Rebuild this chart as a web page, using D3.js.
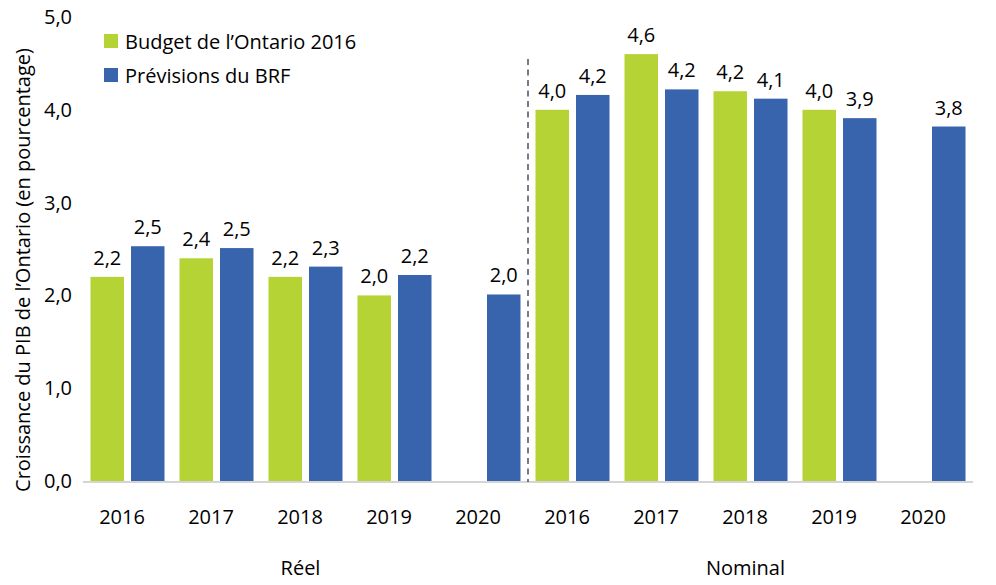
<!DOCTYPE html>
<html>
<head>
<meta charset="utf-8">
<script src="https://cdn.jsdelivr.net/npm/d3@7"></script>
<style>
  body { margin: 0; background: #fff; }
  svg { font-family: "Open Sans", "Noto Sans", sans-serif; }
</style>
</head>
<body>
<div id="chart"></div>
<script>
// data
var years = ["2016", "2017", "2018", "2019", "2020"];
var groups = ["Réel", "Nominal"];
var seriesNames = ["Budget de l’Ontario 2016", "Prévisions du BRF"];
var budget = [2.2, 2.4, 2.2, 2.0, null, 4.0, 4.6, 4.2, 4.0, null];
var brf = [2.53, 2.51, 2.31, 2.22, 2.01, 4.16, 4.22, 4.12, 3.91, 3.82];
var yTicks = [0, 1, 2, 3, 4, 5];

var colors = ["#b5d334", "#3864ae"];
var width = 996, height = 585;
var fs = 20;

var svg = d3.select("#chart").append("svg")
  .attr("width", width)
  .attr("height", height);

// one category per group/year pair
var cats = [];
groups.forEach(function(g) {
  years.forEach(function(yr) { cats.push(g + "-" + yr); });
});

var x = d3.scaleBand().domain(cats).range([83, 973]);
var xSub = d3.scaleBand().domain([0, 1]).range([0, x.bandwidth()])
  .paddingInner(0.173).paddingOuter(0.185);
var y = d3.scaleLinear().domain([0, 5]).range([481, 17]);

var fmt = function(v) { return d3.format(".1f")(v).replace(".", ","); };

// y tick labels
svg.append("g").selectAll("text")
  .data(yTicks).enter().append("text")
  .attr("x", 72)
  .attr("y", function(d) { return y(d); })
  .attr("dy", "0.35em")
  .attr("text-anchor", "end")
  .attr("font-size", fs)
  .attr("fill", "#000")
  .text(fmt);

// y title
svg.append("text")
  .attr("transform", "translate(30,270) rotate(-90)")
  .attr("text-anchor", "middle")
  .attr("font-size", fs)
  .text("Croissance du PIB de l’Ontario (en pourcentage)");

// bars
var rows = cats.map(function(c, i) { return { cat: c, vals: [budget[i], brf[i]] }; });

var cat = svg.append("g").selectAll("g")
  .data(rows).enter().append("g")
  .attr("transform", function(d) { return "translate(" + x(d.cat) + ",0)"; });

var cells = cat.selectAll("g")
  .data(function(d) {
    return d.vals.map(function(v, k) { return { k: k, v: v }; })
      .filter(function(e) { return e.v != null; });
  })
  .enter().append("g");

cells.append("rect")
  .attr("x", function(d) { return xSub(d.k); })
  .attr("y", function(d) { return y(d.v); })
  .attr("width", xSub.bandwidth())
  .attr("height", function(d) { return y(0) - y(d.v); })
  .attr("fill", function(d) { return colors[d.k]; });

cells.append("text")
  .attr("x", function(d) { return xSub(d.k) + xSub.bandwidth() / 2; })
  .attr("y", function(d) { return y(d.v) - 12; })
  .attr("text-anchor", "middle")
  .attr("font-size", fs)
  .text(function(d) { return fmt(d.v); });

// axis line
svg.append("line")
  .attr("x1", x.range()[0]).attr("x2", x.range()[1])
  .attr("y1", y(0) + 1).attr("y2", y(0) + 1)
  .attr("stroke", "#d4d4d4")
  .attr("stroke-width", 2);

// separator between the groups
var sepX = x(groups[1] + "-" + years[0]);
svg.append("line")
  .attr("x1", sepX).attr("x2", sepX)
  .attr("y1", 59).attr("y2", y(0) + 1)
  .attr("stroke", "#4a5260")
  .attr("stroke-width", 1.5)
  .attr("stroke-dasharray", "6,4.5");

// year labels
svg.append("g").selectAll("text")
  .data(cats).enter().append("text")
  .attr("x", function(d) { return x(d) + x.bandwidth() / 2 - 5.5; })
  .attr("y", 524)
  .attr("text-anchor", "middle")
  .attr("font-size", fs)
  .text(function(d) { return d.split("-")[1]; });

// group labels
svg.append("g").selectAll("text")
  .data(groups).enter().append("text")
  .attr("x", function(g) {
    var a = x(g + "-" + years[0]), b = x(g + "-" + years[years.length - 1]) + x.bandwidth();
    return (a + b) / 2 - 5;
  })
  .attr("y", 575)
  .attr("text-anchor", "middle")
  .attr("font-size", fs)
  .text(function(g) { return g; });

// legend
var leg = svg.append("g").selectAll("g")
  .data(seriesNames).enter().append("g")
  .attr("transform", function(d, i) { return "translate(104," + (34 + i * 34) + ")"; });

leg.append("rect")
  .attr("width", 14).attr("height", 14)
  .attr("fill", function(d, i) { return colors[i]; });

leg.append("text")
  .attr("x", 21)
  .attr("y", 15)
  .attr("font-size", fs)
  .text(function(d) { return d; });
</script>
</body>
</html>
